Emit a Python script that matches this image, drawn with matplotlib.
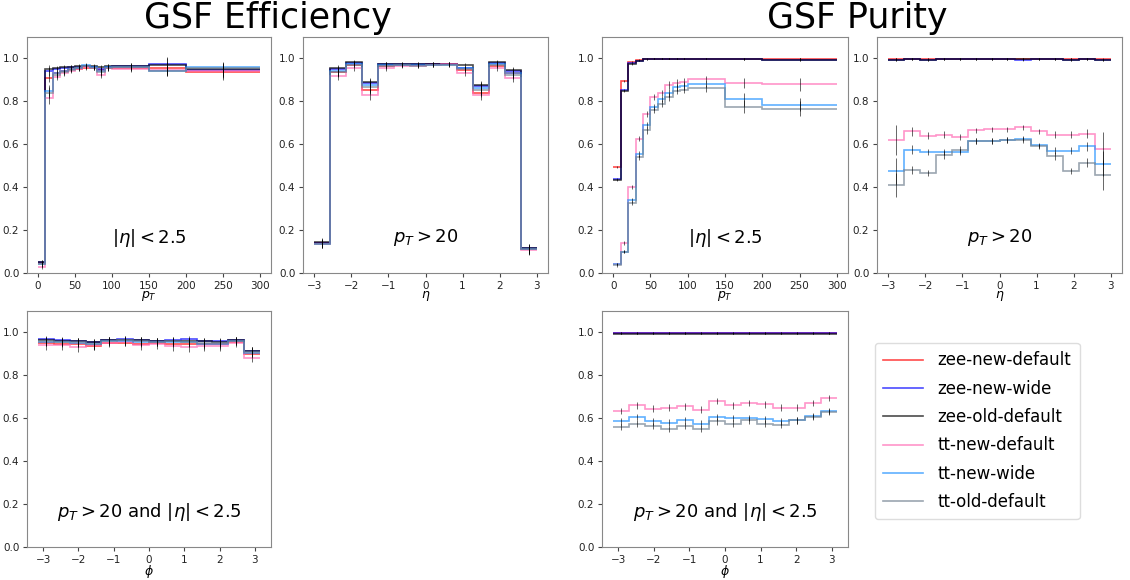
import numpy as np
import matplotlib
matplotlib.use('Agg')
import matplotlib.pyplot as plt

samples = ['zee-new-default', 'zee-new-wide', 'zee-old-default',
           'tt-new-default', 'tt-new-wide', 'tt-old-default']
colors = ['red', 'blue', 'black', 'hotpink', 'dodgerblue', 'slategray']

pt_edges = [0, 10, 20, 30, 40, 50, 60, 70, 80, 90, 100, 150, 200, 300]
eta_edges = np.linspace(-3, 3, 15)
phi_edges = np.linspace(-np.pi, np.pi, 15)

# efficiency vs pT (|eta| < 2.5)
eff_pt = [
    [0.045, 0.91, 0.93, 0.94, 0.95, 0.95, 0.955, 0.955, 0.945, 0.955, 0.955, 0.955, 0.935],
    [0.05, 0.94, 0.95, 0.955, 0.96, 0.96, 0.965, 0.96, 0.95, 0.96, 0.965, 0.975, 0.945],
    [0.05, 0.95, 0.955, 0.96, 0.96, 0.965, 0.965, 0.965, 0.96, 0.965, 0.965, 0.97, 0.95],
    [0.03, 0.815, 0.915, 0.93, 0.94, 0.95, 0.96, 0.955, 0.925, 0.955, 0.95, 0.945, 0.94],
    [0.04, 0.85, 0.93, 0.94, 0.95, 0.955, 0.97, 0.96, 0.94, 0.96, 0.96, 0.94, 0.96],
    [0.04, 0.84, 0.925, 0.935, 0.945, 0.955, 0.965, 0.955, 0.935, 0.955, 0.96, 0.94, 0.955],
]
eff_pt_err = [
    [0.01, 0.02, 0.01, 0.008, 0.008, 0.008, 0.008, 0.008, 0.01, 0.01, 0.012, 0.03, 0.035],
    [0.01, 0.02, 0.01, 0.008, 0.008, 0.008, 0.008, 0.008, 0.01, 0.01, 0.012, 0.03, 0.035],
    [0.01, 0.02, 0.01, 0.008, 0.008, 0.008, 0.008, 0.008, 0.01, 0.01, 0.012, 0.03, 0.035],
    [0.01, 0.025, 0.015, 0.012, 0.01, 0.01, 0.01, 0.01, 0.015, 0.012, 0.012, 0.02, 0.02],
    [0.01, 0.025, 0.015, 0.012, 0.01, 0.01, 0.01, 0.01, 0.015, 0.012, 0.012, 0.02, 0.02],
    [0.01, 0.025, 0.015, 0.012, 0.01, 0.01, 0.01, 0.01, 0.015, 0.012, 0.012, 0.02, 0.02],
]

# efficiency vs eta (pT > 20)
eff_eta = [
    [0.14, 0.935, 0.97, 0.855, 0.965, 0.97, 0.97, 0.975, 0.975, 0.945, 0.84, 0.965, 0.93, 0.11],
    [0.14, 0.95, 0.98, 0.885, 0.975, 0.975, 0.975, 0.975, 0.975, 0.955, 0.87, 0.98, 0.94, 0.115],
    [0.145, 0.955, 0.985, 0.89, 0.975, 0.975, 0.975, 0.975, 0.975, 0.97, 0.875, 0.985, 0.945, 0.115],
    [0.135, 0.92, 0.955, 0.83, 0.955, 0.965, 0.965, 0.97, 0.975, 0.93, 0.83, 0.955, 0.91, 0.105],
    [0.135, 0.94, 0.975, 0.875, 0.97, 0.97, 0.97, 0.97, 0.97, 0.955, 0.86, 0.975, 0.93, 0.11],
    [0.135, 0.935, 0.97, 0.865, 0.965, 0.97, 0.965, 0.97, 0.97, 0.95, 0.855, 0.97, 0.925, 0.11],
]
eff_eta_err = [
    [0.02, 0.015, 0.01, 0.02, 0.01, 0.008, 0.008, 0.008, 0.008, 0.01, 0.02, 0.01, 0.015, 0.02],
    [0.02, 0.015, 0.01, 0.02, 0.01, 0.008, 0.008, 0.008, 0.008, 0.01, 0.02, 0.01, 0.015, 0.02],
    [0.02, 0.015, 0.01, 0.02, 0.01, 0.008, 0.008, 0.008, 0.008, 0.01, 0.02, 0.01, 0.015, 0.02],
    [0.02, 0.02, 0.012, 0.025, 0.012, 0.01, 0.01, 0.01, 0.01, 0.012, 0.025, 0.012, 0.02, 0.02],
    [0.02, 0.02, 0.012, 0.025, 0.012, 0.01, 0.01, 0.01, 0.01, 0.012, 0.025, 0.012, 0.02, 0.02],
    [0.02, 0.02, 0.012, 0.025, 0.012, 0.01, 0.01, 0.01, 0.01, 0.012, 0.025, 0.012, 0.02, 0.02],
]

# efficiency vs phi (pT > 20 and |eta| < 2.5)
eff_phi = [
    [0.95, 0.945, 0.945, 0.935, 0.95, 0.95, 0.945, 0.95, 0.945, 0.945, 0.945, 0.945, 0.955, 0.90],
    [0.97, 0.965, 0.96, 0.955, 0.965, 0.97, 0.965, 0.96, 0.965, 0.97, 0.96, 0.96, 0.965, 0.915],
    [0.965, 0.96, 0.96, 0.955, 0.965, 0.965, 0.965, 0.96, 0.96, 0.96, 0.96, 0.955, 0.965, 0.915],
    [0.94, 0.94, 0.93, 0.94, 0.95, 0.955, 0.94, 0.945, 0.935, 0.93, 0.935, 0.935, 0.95, 0.88],
    [0.955, 0.955, 0.95, 0.945, 0.96, 0.96, 0.955, 0.955, 0.955, 0.955, 0.945, 0.945, 0.96, 0.905],
    [0.96, 0.955, 0.955, 0.945, 0.96, 0.965, 0.96, 0.955, 0.96, 0.955, 0.95, 0.95, 0.96, 0.91],
]
eff_phi_err = [[0.015] * 14, [0.015] * 14, [0.015] * 14,
               [0.02] * 14, [0.02] * 14, [0.02] * 14]

# purity vs pT (|eta| < 2.5)
pur_pt = [
    [0.495, 0.893, 0.985, 0.995, 0.998, 0.999, 0.999, 0.999, 0.999, 0.999, 0.999, 0.998, 0.997],
    [0.437, 0.852, 0.977, 0.99, 0.997, 0.998, 0.998, 0.998, 0.998, 0.998, 0.998, 0.996, 0.995],
    [0.435, 0.85, 0.975, 0.99, 0.996, 0.998, 0.998, 0.998, 0.998, 0.998, 0.998, 0.996, 0.995],
    [0.04, 0.14, 0.40, 0.625, 0.74, 0.82, 0.84, 0.875, 0.885, 0.89, 0.905, 0.885, 0.88],
    [0.04, 0.10, 0.34, 0.555, 0.69, 0.775, 0.81, 0.84, 0.865, 0.87, 0.88, 0.81, 0.785],
    [0.035, 0.10, 0.325, 0.54, 0.665, 0.76, 0.79, 0.82, 0.85, 0.855, 0.86, 0.775, 0.765],
]
pur_pt_err = [
    [0.005, 0.005, 0.004, 0.003, 0.002, 0.002, 0.002, 0.002, 0.002, 0.002, 0.002, 0.004, 0.006],
    [0.005, 0.005, 0.004, 0.003, 0.002, 0.002, 0.002, 0.002, 0.002, 0.002, 0.002, 0.004, 0.006],
    [0.005, 0.005, 0.004, 0.003, 0.002, 0.002, 0.002, 0.002, 0.002, 0.002, 0.002, 0.004, 0.006],
    [0.005, 0.008, 0.01, 0.012, 0.015, 0.015, 0.015, 0.018, 0.018, 0.018, 0.015, 0.025, 0.03],
    [0.005, 0.008, 0.01, 0.012, 0.015, 0.015, 0.015, 0.018, 0.018, 0.018, 0.015, 0.03, 0.03],
    [0.005, 0.008, 0.01, 0.012, 0.015, 0.015, 0.015, 0.018, 0.018, 0.018, 0.015, 0.03, 0.035],
]

# purity vs eta (pT > 20)
pur_eta = [
    [0.997, 0.998, 0.997, 0.998, 0.998, 0.998, 0.998, 0.998, 0.998, 0.998, 0.998, 0.997, 0.998, 0.997],
    [0.995, 0.996, 0.994, 0.996, 0.997, 0.997, 0.997, 0.997, 0.995, 0.996, 0.996, 0.995, 0.996, 0.994],
    [0.995, 0.996, 0.995, 0.996, 0.996, 0.997, 0.997, 0.996, 0.996, 0.996, 0.996, 0.995, 0.996, 0.994],
    [0.62, 0.66, 0.64, 0.645, 0.635, 0.665, 0.67, 0.67, 0.68, 0.66, 0.645, 0.645, 0.65, 0.58],
    [0.475, 0.575, 0.565, 0.565, 0.565, 0.615, 0.615, 0.62, 0.625, 0.595, 0.57, 0.57, 0.59, 0.51],
    [0.41, 0.48, 0.465, 0.55, 0.575, 0.615, 0.615, 0.62, 0.62, 0.59, 0.545, 0.475, 0.515, 0.455],
]
pur_eta_err = [
    [0.005] * 14, [0.005] * 14, [0.005] * 14,
    [0.07, 0.02, 0.015, 0.015, 0.015, 0.012, 0.012, 0.012, 0.012, 0.012, 0.015, 0.015, 0.02, 0.075],
    [0.06, 0.02, 0.015, 0.015, 0.015, 0.012, 0.012, 0.012, 0.012, 0.012, 0.015, 0.015, 0.02, 0.06],
    [0.055, 0.02, 0.015, 0.02, 0.015, 0.012, 0.012, 0.012, 0.012, 0.012, 0.02, 0.015, 0.02, 0.07],
]

# purity vs phi (pT > 20 and |eta| < 2.5)
pur_phi = [
    [0.997, 0.998, 0.997, 0.998, 0.998, 0.997, 0.998, 0.998, 0.997, 0.997, 0.998, 0.998, 0.998, 0.997],
    [0.996, 0.996, 0.996, 0.996, 0.996, 0.996, 0.996, 0.996, 0.996, 0.996, 0.996, 0.996, 0.996, 0.996],
    [0.995, 0.995, 0.995, 0.995, 0.995, 0.995, 0.995, 0.995, 0.995, 0.995, 0.995, 0.995, 0.995, 0.995],
    [0.635, 0.66, 0.645, 0.65, 0.655, 0.64, 0.68, 0.66, 0.67, 0.665, 0.65, 0.65, 0.67, 0.695],
    [0.585, 0.605, 0.585, 0.58, 0.59, 0.575, 0.605, 0.60, 0.60, 0.595, 0.585, 0.59, 0.61, 0.635],
    [0.56, 0.575, 0.565, 0.55, 0.565, 0.55, 0.585, 0.575, 0.59, 0.575, 0.57, 0.59, 0.605, 0.63],
]
pur_phi_err = [[0.004] * 14, [0.004] * 14, [0.004] * 14,
               [0.015] * 14, [0.015] * 14, [0.015] * 14]


def draw_panel(ax, edges, values, errors, text, xlabel):
    edges = np.asarray(edges, dtype=float)
    centers = 0.5 * (edges[:-1] + edges[1:])
    for vals, errs, c, name in zip(values, errors, colors, samples):
        ax.stairs(vals, edges, baseline=None, color=c, alpha=0.7, lw=1.2, label=name)
        ax.errorbar(centers, vals, yerr=errs, fmt='none', ecolor='black',
                    elinewidth=0.7, capsize=0, alpha=0.6)
    ax.set_ylim(0, 1.1)
    ax.set_yticks([0.0, 0.2, 0.4, 0.6, 0.8, 1.0])
    ax.tick_params(labelsize=7.5, color='#444444', labelcolor='#222222',
                   pad=2.5, length=3)
    for s in ax.spines.values():
        s.set_color('#888888')
    ax.set_xlabel(xlabel, fontsize=9, labelpad=-1)
    ax.text(0.5, 0.15, text, transform=ax.transAxes, ha='center', va='center',
            fontsize=13)


fig = plt.figure(figsize=(11.3, 5.8), dpi=100)
W, H = 1130.0, 580.0


def box(x0, y0, x1, y1):
    return [x0 / W, 1 - y1 / H, (x1 - x0) / W, (y1 - y0) / H]


ax1 = fig.add_axes(box(27, 37, 271, 273))
ax2 = fig.add_axes(box(303, 37, 548, 273))
ax3 = fig.add_axes(box(27, 311, 271, 547))
ax4 = fig.add_axes(box(602, 37, 848, 273))
ax5 = fig.add_axes(box(877, 37, 1122, 273))
ax6 = fig.add_axes(box(602, 311, 848, 547))

draw_panel(ax1, pt_edges, eff_pt, eff_pt_err, r'$|\eta| < 2.5$', r'$p_T$')
draw_panel(ax2, eta_edges, eff_eta, eff_eta_err, r'$p_T > 20$', r'$\eta$')
draw_panel(ax3, phi_edges, eff_phi, eff_phi_err, r'$p_T > 20$ and $|\eta| < 2.5$', r'$\phi$')
draw_panel(ax4, pt_edges, pur_pt, pur_pt_err, r'$|\eta| < 2.5$', r'$p_T$')
draw_panel(ax5, eta_edges, pur_eta, pur_eta_err, r'$p_T > 20$', r'$\eta$')
draw_panel(ax6, phi_edges, pur_phi, pur_phi_err, r'$p_T > 20$ and $|\eta| < 2.5$', r'$\phi$')

fig.text(268 / W, 1 - 18 / H, 'GSF Efficiency', ha='center', va='center', fontsize=25)
fig.text(857 / W, 1 - 18 / H, 'GSF Purity', ha='center', va='center', fontsize=25)

handles, labels = ax6.get_legend_handles_labels()
fig.legend(handles, labels, loc='upper left', bbox_to_anchor=(875 / W, 1 - 343 / H),
           borderaxespad=0, fontsize=12, handlelength=2.4, borderpad=0.5,
           labelspacing=0.62, handletextpad=0.85, framealpha=1, edgecolor='#dddddd')

fig.savefig('out.png', dpi=100)
